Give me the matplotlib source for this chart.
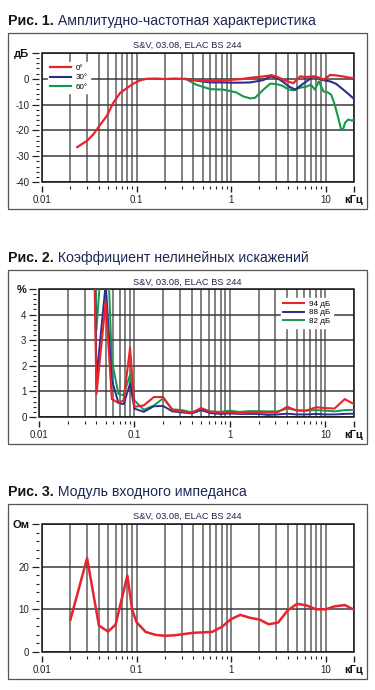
import matplotlib
matplotlib.use("Agg")
import matplotlib.pyplot as plt
from matplotlib.patches import Rectangle
from matplotlib.ticker import FixedLocator, NullFormatter, MultipleLocator

plt.rcParams['font.family'] = ['Liberation Sans', 'DejaVu Sans']

# --- Рис. 1: АЧХ ---
afr_red_f = [0.0236, 0.03, 0.035, 0.04, 0.0483, 0.0564, 0.067, 0.079, 0.0925, 0.109, 0.128, 0.16, 0.2, 0.25,
             0.3, 0.35, 0.45, 0.6, 0.8, 1.0, 1.3, 1.6, 2.2, 2.7, 3.2, 3.8, 4.56, 5.37, 6.2, 7.4, 8.5, 9.5,
             11.2, 13.0, 15.4, 18.0, 20.0]
afr_red = [-26.5, -24.0, -21.5, -18.5, -14.5, -9.5, -5.5, -3.6, -1.9, -0.6, 0.0, 0.1, -0.1, 0.1,
           0.0, -0.2, -0.6, -0.9, -0.7, -0.4, -0.1, 0.4, 0.9, 1.4, 0.5, -0.8, -1.7, 0.9, 0.7, 0.9, 0.5, -0.4,
           1.5, 1.3, 0.9, 0.4, 0.3]
afr_blue_f = [0.33, 0.45, 0.6, 0.8, 1.0, 1.3, 1.6, 2.2, 2.6, 3.0, 3.5, 4.1, 4.8, 5.5, 6.3, 7.4, 8.2, 9.0,
              11.2, 13.0, 15.4, 18.0, 20.0]
afr_blue = [0.0, -0.8, -1.4, -1.4, -1.5, -1.5, -1.4, -0.5, 0.9, 0.5, -1.0, -3.0, -4.2, -2.5, -1.0, 0.9, 0.5, -0.4,
            -1.0, -2.0, -4.2, -6.3, -7.8]
afr_green_f = [0.33, 0.43, 0.6, 0.83, 1.0, 1.14, 1.34, 1.6, 1.79, 2.2, 2.6, 3.0, 3.5, 4.0, 4.56, 5.3, 6.3, 7.0,
               7.7, 8.5, 9.5, 10.5, 11.5, 12.5, 13.6, 14.6, 15.3, 16.1, 17.4, 19.0, 20.0]
afr_green = [0.0, -2.3, -4.0, -4.2, -4.8, -5.3, -6.8, -7.6, -7.4, -4.2, -1.9, -2.0, -2.7, -4.0, -4.5, -3.5, -3.0, -2.3,
             -4.2, -1.0, -4.9, -5.2, -6.2, -10.0, -15.0, -19.6, -19.6, -17.0, -15.8, -16.2, -15.8]
afr_labels = ["0°", "30°", "60°"]

# --- Рис. 2: КНИ ---
thd_f = [0.038, 0.04, 0.05, 0.058, 0.068, 0.077, 0.09, 0.1, 0.125, 0.16, 0.2, 0.25, 0.315, 0.4, 0.5, 0.63,
         0.8, 1.0, 1.25, 1.6, 2.0, 2.5, 3.15, 4.0, 5.0, 6.3, 8.0, 10.0, 12.5, 16.0, 20.0]
thd_94 = [6.0, 0.9, 4.5, 0.7, 0.55, 0.65, 2.7, 0.4, 0.45, 0.78, 0.78, 0.27, 0.22, 0.17, 0.35, 0.2,
          0.17, 0.2, 0.15, 0.17, 0.17, 0.17, 0.18, 0.4, 0.25, 0.25, 0.38, 0.35, 0.33, 0.7, 0.5]
thd_88 = [7.0, 1.5, 5.2, 1.45, 0.55, 0.5, 1.3, 0.33, 0.2, 0.42, 0.43, 0.22, 0.18, 0.14, 0.27, 0.15,
          0.12, 0.14, 0.12, 0.12, 0.12, 0.08, 0.1, 0.13, 0.1, 0.1, 0.12, 0.1, 0.1, 0.12, 0.13]
thd_82 = [7.0, 3.4, 8.5, 2.2, 0.9, 0.85, 1.65, 0.65, 0.28, 0.45, 0.73, 0.3, 0.27, 0.18, 0.33, 0.22,
          0.2, 0.25, 0.2, 0.23, 0.23, 0.22, 0.22, 0.33, 0.27, 0.25, 0.27, 0.25, 0.22, 0.27, 0.28]
thd_labels = ["94 дБ", "88 дБ", "82 дБ"]

# --- Рис. 3: импеданс ---
imp_f = [0.02, 0.03, 0.04, 0.05, 0.06, 0.08, 0.09, 0.1, 0.125, 0.16, 0.2, 0.25, 0.315, 0.4, 0.5, 0.63,
         0.8, 1.0, 1.25, 1.6, 2.0, 2.5, 3.15, 4.0, 5.0, 6.3, 8.0, 10.0, 12.5, 16.0, 20.0]
imp = [7.6, 22.0, 6.2, 4.8, 6.4, 17.9, 9.9, 7.0, 4.7, 4.0, 3.8, 3.9, 4.2, 4.5, 4.6, 4.7,
       5.9, 7.7, 8.7, 8.0, 7.6, 6.5, 6.9, 9.8, 11.3, 10.9, 10.0, 10.0, 10.7, 11.0, 9.9]

x_major = [0.01, 0.1, 1, 10, 20]
x_labels = ["0.01", "0.1", "1", "10", "кГц"]
x_minor = [m * d for d in (0.01, 0.1, 1) for m in range(2, 10)]

RED = "#e8232b"
BLUE = "#2b2f8c"
GREEN = "#139a48"
NAVY = "#1d2654"

W, H = 375, 690
fig = plt.figure(figsize=(W / 100, H / 100), dpi=100)


def px_rect(x0, y0, x1, y1):
    return [x0 / W, 1 - y1 / H, (x1 - x0) / W, (y1 - y0) / H]


def panel(num, title, box, plot, ylim, ymajor, yminor, unit):
    # outer frame
    fig.add_artist(Rectangle((box[0] / W, 1 - box[3] / H), (box[2] - box[0]) / W, (box[3] - box[1]) / H,
                             transform=fig.transFigure, fill=False, ec="#555555", lw=0.9))
    t = fig.text(8 / W, 1 - box[1] / H + 12 / H, f"Рис. {num}.", fontsize=10.2, fontweight="bold",
                 color="#151515", ha="left", va="center")
    ax = fig.add_axes(px_rect(*plot))
    ax.annotate(" " + title, xy=(1, 0.5), xycoords=t, va="center", ha="left", fontsize=10.2,
                color=NAVY, annotation_clip=False)
    fig.text((box[0] + box[2]) / 2 / W, 1 - (box[1] + 12) / H, "S&V, 03.08, ELAC BS 244",
             fontsize=6.7, color="#2c1d4a", ha="center", va="center")

    ax.set_xscale("log")
    ax.set_xlim(0.01, 20)
    ax.set_ylim(*ylim)
    ax.xaxis.set_major_locator(FixedLocator(x_major))
    ax.xaxis.set_minor_locator(FixedLocator(x_minor))
    ax.xaxis.set_minor_formatter(NullFormatter())
    ax.set_xticklabels(x_labels)
    ax.yaxis.set_major_locator(MultipleLocator(ymajor))
    ax.yaxis.set_minor_locator(MultipleLocator(yminor))

    for s in ax.spines.values():
        s.set_visible(False)
    ax.spines["bottom"].set_position(("outward", 3))
    ax.spines["left"].set_position(("outward", 2.5))
    ax.tick_params(axis="x", which="major", length=4.5, width=1.0, color="#222222",
                   labelsize=7, labelcolor="#222222", pad=2)
    ax.tick_params(axis="x", which="minor", length=2.2, width=0.8, color="#222222")
    ax.tick_params(axis="y", which="major", length=5, width=0.9, color="#222222",
                   labelsize=7, labelcolor="#222222", pad=1.5)
    ax.tick_params(axis="y", which="minor", length=2.2, width=0.8, color="#222222")

    ax.grid(True, axis="x", which="both", color="#666666", lw=1.15)
    ax.grid(True, axis="y", which="major", color="#3a3a3a", lw=1.1)
    ax.add_patch(Rectangle((0, 0), 1, 1, transform=ax.transAxes, fill=False, ec="#111111",
                           lw=1.1, zorder=4, clip_on=False))

    fig.canvas.draw()
    xl = ax.get_xticklabels()
    xl[-1].set_fontweight("bold")
    xl[-1].set_fontsize(8)
    xl[-1].set_color("#111111")
    ticks = ax.get_yticks()
    labels = []
    for v in ticks:
        if abs(v - ylim[1]) < 1e-9:
            labels.append(unit)
        else:
            labels.append(f"{v:g}")
    ax.set_yticks(ticks)
    ax.set_yticklabels(labels)
    ax.set_ylim(*ylim)
    for lab in ax.get_yticklabels():
        if lab.get_text() == unit:
            lab.set_fontweight("bold")
            lab.set_fontsize(8)
            lab.set_color("#111111")
    return ax


ax1 = panel(1, "Амплитудно-частотная характеристика", (8, 33, 367, 209), (42, 53, 354, 182),
            (-40, 10), 10, 2, "дБ")
ax1.plot(afr_red_f, afr_red, color=RED, lw=1.6, label=afr_labels[0], zorder=5)
ax1.plot(afr_blue_f, afr_blue, color=BLUE, lw=1.5, label=afr_labels[1], zorder=4.5)
ax1.plot(afr_green_f, afr_green, color=GREEN, lw=1.5, label=afr_labels[2], zorder=4.4)
leg = ax1.legend(loc="upper left", bbox_to_anchor=(0.005, 0.96), fontsize=5.8, frameon=True,
                 handlelength=2.6, handletextpad=0.6, labelspacing=0.2, borderpad=0.3,
                 fancybox=False, edgecolor="white", framealpha=1)
leg.set_zorder(6)

ax2 = panel(2, "Коэффициент нелинейных искажений", (8, 270, 367, 444), (39, 289, 354, 417),
            (0, 5), 1, 0.2, "%")
ax2.plot(thd_f, thd_82, color=GREEN, lw=1.4, label=thd_labels[2], zorder=4.4)
ax2.plot(thd_f, thd_88, color=BLUE, lw=1.4, label=thd_labels[1], zorder=4.5)
ax2.plot(thd_f, thd_94, color=RED, lw=1.5, label=thd_labels[0], zorder=5)
h, l = ax2.get_legend_handles_labels()
leg2 = ax2.legend(h[::-1], l[::-1], loc="upper left", bbox_to_anchor=(0.755, 0.965), fontsize=5.8,
                  frameon=True, handlelength=2.6, handletextpad=0.6, labelspacing=0.15, borderpad=0.3,
                  fancybox=False, edgecolor="white", framealpha=1)
leg2.set_zorder(6)

ax3 = panel(3, "Модуль входного импеданса", (8, 504, 367, 679), (42, 524, 354, 652),
            (0, 30), 10, 2, "Ом")
ax3.plot(imp_f, imp, color=RED, lw=1.8, zorder=5)

fig.savefig("out.png", dpi=100, facecolor="white")
